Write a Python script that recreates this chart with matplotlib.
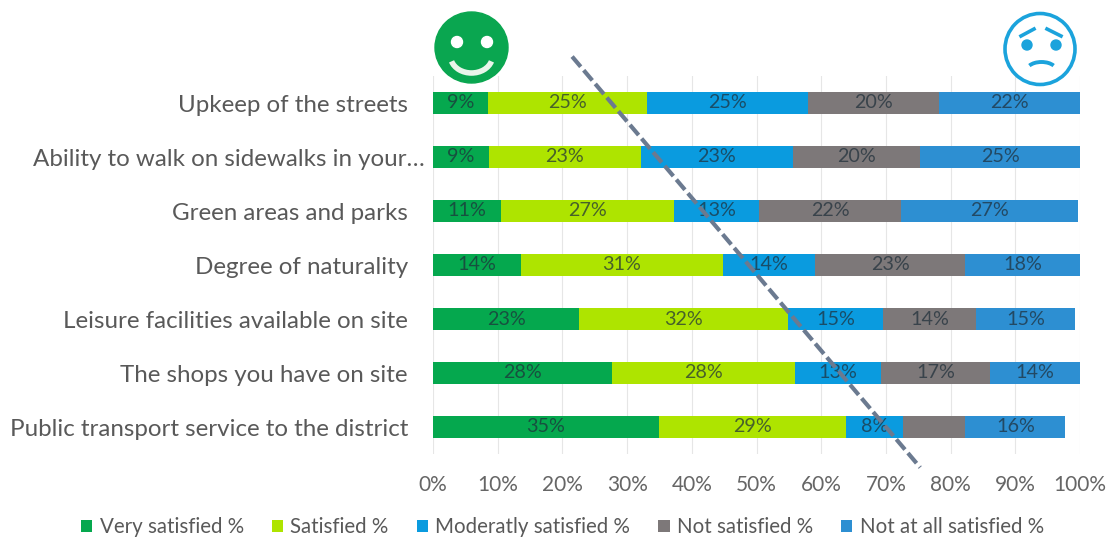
import matplotlib.pyplot as plt
from matplotlib.patches import Arc, Circle, Ellipse
from matplotlib.transforms import ScaledTranslation

plt.rcParams["font.family"] = ["Lato", "DejaVu Sans"]

categories = [
    "Upkeep of the streets",
    "Ability to walk on sidewalks in your…",
    "Green areas and parks",
    "Degree of naturality",
    "Leisure facilities available on site",
    "The shops you have on site",
    "Public transport service to the district",
]
series_names = [
    "Very satisfied %",
    "Satisfied %",
    "Moderatly satisfied %",
    "Not satisfied %",
    "Not at all satisfied %",
]
very_satisfied = [8.5, 8.6, 10.5, 13.6, 22.6, 27.6, 34.9]
satisfied = [24.5, 23.5, 26.7, 31.2, 32.2, 28.3, 29.0]
moderately = [24.9, 23.5, 13.2, 14.3, 14.8, 13.3, 8.7]
not_satisfied = [20.3, 19.7, 22.0, 23.2, 14.3, 16.9, 9.7]
not_at_all = [21.8, 24.7, 27.3, 17.7, 15.3, 13.9, 15.4]

very_labels = ["9%", "9%", "11%", "14%", "23%", "28%", "35%"]
satisfied_labels = ["25%", "23%", "27%", "31%", "32%", "28%", "29%"]
moderately_labels = ["25%", "23%", "13%", "14%", "15%", "13%", "8%"]
not_satisfied_labels = ["20%", "20%", "22%", "23%", "14%", "17%", ""]
not_at_all_labels = ["22%", "25%", "27%", "18%", "15%", "14%", "16%"]

trend_x = [21.5, 75.3]
trend_y = [-0.86, 6.75]

colors = ["#05a84e", "#aee400", "#0a9bdf", "#7d7879", "#2d8fd2"]
W, H = 1109, 537

fig = plt.figure(figsize=(W / 100, H / 100), dpi=100)
ax = fig.add_axes([433 / W, 1 - 454 / H, 647 / W, 378 / H])

left = [0.0] * len(categories)
all_values = [very_satisfied, satisfied, moderately, not_satisfied, not_at_all]
all_labels = [very_labels, satisfied_labels, moderately_labels, not_satisfied_labels, not_at_all_labels]
for values, labels, name, color in zip(all_values, all_labels, series_names, colors):
    bars = ax.barh(range(len(categories)), values, left=left, height=0.39, color=color, label=name, zorder=2)
    ax.bar_label(bars, labels=labels, label_type="center", fontsize=14.2, color="#1f2f3a", alpha=0.72, zorder=3)
    left = [a + b for a, b in zip(left, values)]

ax.plot(trend_x, trend_y, color="#6b7a90", lw=3, ls=(0, (3.2, 1.1)), clip_on=False, zorder=4)

ax.set_xlim(0, 100)
ax.set_ylim(6.5, -0.5)
ax.set_xticks(range(0, 101, 10))
ax.set_xticklabels([f"{v}%" for v in range(0, 101, 10)], fontsize=15, color="#666666")
ax.set_yticks(range(len(categories)))
ax.set_yticklabels(categories, fontsize=17.4, color="#595959")
ax.tick_params(axis="both", length=0)
ax.tick_params(axis="x", pad=15)
ax.tick_params(axis="y", pad=18)
ax.grid(axis="x", color="#e6e6e6", lw=0.8, zorder=0)
for spine in ax.spines.values():
    spine.set_visible(False)

# the truncated label pokes out further right than the others
lab = ax.get_yticklabels()[1]
lab.set_transform(lab.get_transform() + ScaledTranslation(17 / 100, 0, fig.dpi_scale_trans))

fig.legend(
    loc="center left",
    bbox_to_anchor=(81 / W, 1 - 527 / H),
    ncol=5,
    frameon=False,
    fontsize=14.8,
    labelcolor="#595959",
    handlelength=0.55,
    handleheight=0.55,
    handletextpad=0.35,
    columnspacing=1.37,
    borderpad=0,
    borderaxespad=0,
)

# smiley faces, drawn in pixel coordinates
face = fig.add_axes([0, 0, 1, 1], zorder=5)
face.set_xlim(0, W)
face.set_ylim(H, 0)
face.axis("off")
face.add_patch(Ellipse((471.5, 47.5), 73, 71, color="#0aa650"))
face.add_patch(Circle((457, 42), 5.5, color="white"))
face.add_patch(Circle((487, 42), 5.5, color="white"))
face.add_patch(Arc((471.5, 56), 42, 34, theta1=15, theta2=165, color="#e9f5ea", lw=4))

blue = "#1ba3dc"
face.add_patch(Ellipse((1040, 49), 70, 71, fill=False, ec=blue, lw=2.6))
face.add_patch(Circle((1027, 45), 5, color=blue))
face.add_patch(Circle((1056, 45), 5, color=blue))
face.add_patch(Arc((1041.5, 70), 29, 16, theta1=200, theta2=340, color=blue, lw=2.8))
face.plot([1021, 1034], [36, 29], color=blue, lw=2.6)
face.plot([1047, 1061], [29, 36], color=blue, lw=2.6)

fig.savefig("out.png", dpi=100)
